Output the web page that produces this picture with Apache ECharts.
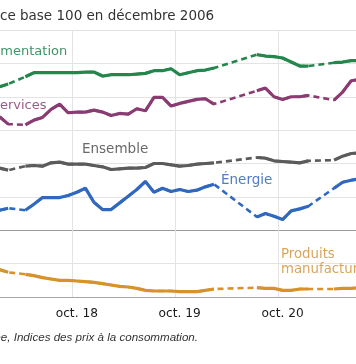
<!DOCTYPE html>
<html><head><meta charset="utf-8">
<script src="https://cdn.jsdelivr.net/npm/echarts@6/dist/echarts.min.js"></script>
<style>html,body{margin:0;padding:0;background:#fff;overflow:hidden;width:356px;height:364px}#c{position:absolute;left:-20px;top:0;width:396px;height:364px}</style>
</head><body><div id="c"></div>
<script>
// ---- data ----
const months = ['janv. 18','févr. 18','mars 18','avr. 18','mai 18','juin 18','juil. 18','août 18','sept. 18','oct. 18','nov. 18','déc. 18',
 'janv. 19','févr. 19','mars 19','avr. 19','mai 19','juin 19','juil. 19','août 19','sept. 19','oct. 19','nov. 19','déc. 19',
 'janv. 20','févr. 20','mars 20','avr. 20','mai 20','juin 20','juil. 20','août 20','sept. 20','oct. 20','nov. 20','déc. 20',
 'janv. 21','févr. 21','mars 21','avr. 21','mai 21','juin 21','juil. 21'];
const alimentation = [121.5,121.9,null,123.0,123.6,123.6,123.6,123.6,123.6,123.6,123.7,123.7,123.1,123.3,123.3,123.3,123.4,123.5,123.9,123.9,124.2,123.3,123.6,123.9,124.0,124.3,null,null,null,null,126.3,126.1,126.0,125.8,125.2,124.6,124.6,null,null,125.1,125.2,125.4,125.4];
const services = [117.0,115.9,null,115.8,116.5,116.9,118.1,118.9,117.6,117.7,117.7,118.0,117.7,117.2,117.5,117.4,118.2,117.9,119.9,119.9,118.6,119.0,119.3,119.6,119.7,118.9,null,null,null,null,120.9,121.3,120.0,119.6,120.0,120.0,120.2,null,null,119.5,120.7,122.4,122.6];
const ensemble = [109.3,109.0,null,109.6,109.7,109.6,110.1,110.2,109.9,109.9,109.9,109.7,109.5,109.1,109.2,109.3,109.3,109.4,110.0,110.0,109.8,109.6,109.7,109.9,110.0,110.1,null,null,null,null,110.9,110.8,110.4,110.3,110.2,110.1,110.4,null,null,110.5,111.1,111.5,111.6];
const energie = [103.0,103.3,null,103.0,103.9,104.9,104.9,104.9,105.2,105.7,106.3,104.2,103.1,103.1,104.1,105.1,106.1,107.3,105.7,106.3,105.8,106.1,105.8,106.0,106.5,106.9,null,null,null,null,102.0,102.5,102.1,101.6,102.9,103.2,103.6,null,null,106.3,107.2,107.5,107.7];
const produits = [94.1,93.7,null,93.4,93.2,92.9,92.7,92.5,92.5,92.4,92.3,92.2,92.0,91.8,91.6,91.5,91.3,91.0,90.9,90.9,90.9,90.8,90.8,90.8,91.0,91.2,null,null,null,null,91.4,91.3,91.3,91.0,91.0,91.2,91.2,null,null,91.2,91.3,91.3,91.4];
const seriesNames = ['Alimentation','Services','Ensemble','Énergie','Produits manufacturés'];
const titleText = 'Indice base 100 en décembre 2006';
const sourceText = 'Source : Insee, Indices des prix à la consommation.';

const OFF = 20; // container shifted left by this many px
const colors = ['#23864c','#8a3c72','#5b5b5b','#3068c0','#d8922a'];
const labelColors = ['#3f9466','#9b5a8a','#6a6a6a','#4f7cc0','#d9a55a'];
const datasets = [alimentation, services, ensemble, energie, produits];
const series = [];
datasets.forEach((d, i) => {
  series.push({type:'line', name: seriesNames[i]+' (pointillé)', data: d, connectNulls: true, symbol:'none',
    lineStyle:{color: colors[i], width: 2.6, type:[6,4]}});
  series.push({type:'line', name: seriesNames[i], data: d, connectNulls: false, symbol:'none',
    lineStyle:{color: colors[i], width: 3.2}});
});
function lbl(text, x, y, fill, size, extra) {
  return {type:'text', x: x + OFF, y: y, z: 10,
    style: Object.assign({text: text, fill: fill, fontSize: size, fontFamily: 'DejaVu Sans', verticalAlign: 'middle'}, extra || {})};
}
const chart = echarts.init(document.getElementById('c'), null, {renderer:'canvas'});
chart.setOption({
  animation:false,
  grid:{left: OFF - 4.675, right: 20 - 8.05, top:30, bottom:67},
  xAxis:{type:'category', data: months, boundaryGap:true,
    axisLine:{show:false}, axisTick:{show:false},
    axisLabel:{interval:(i,v)=>v.indexOf('oct.')===0, margin:11, color:'#1a1a1a', fontSize:12.2, fontFamily:'DejaVu Sans'},
    splitLine:{show:true, interval:(i,v)=>v.indexOf('oct.')===0, lineStyle:{color:'#e3e3e3', width:1}}},
  yAxis:{type:'value', min:90, max:130, interval:5,
    axisLabel:{show:false}, axisLine:{show:false}, axisTick:{show:false},
    splitLine:{show:true, lineStyle:{color:['#a6a6a6','#e3e3e3','#9a9a9a','#e3e3e3','#e3e3e3','#e3e3e3','#e3e3e3','#e3e3e3','#e3e3e3'], width:1}}},
  series: series,
  graphic:[
    lbl(titleText, -24.9, 16, '#333', 13.5),
    lbl(seriesNames[0], -15.8, 52, labelColors[0], 13),
    lbl(seriesNames[1], -8.3, 106, labelColors[1], 13),
    lbl(seriesNames[2], 82, 149.5, labelColors[2], 13.5),
    lbl(seriesNames[3], 221, 180, labelColors[3], 13.5),
    lbl('Produits', 281, 255, labelColors[4], 13.3),
    lbl('manufacturés', 281, 270, labelColors[4], 13.3),
    lbl(sourceText, -67.5, 338, '#333', 11.6, {fontFamily:'Liberation Sans', fontStyle:'italic'})
  ]
});
</script></body></html>
